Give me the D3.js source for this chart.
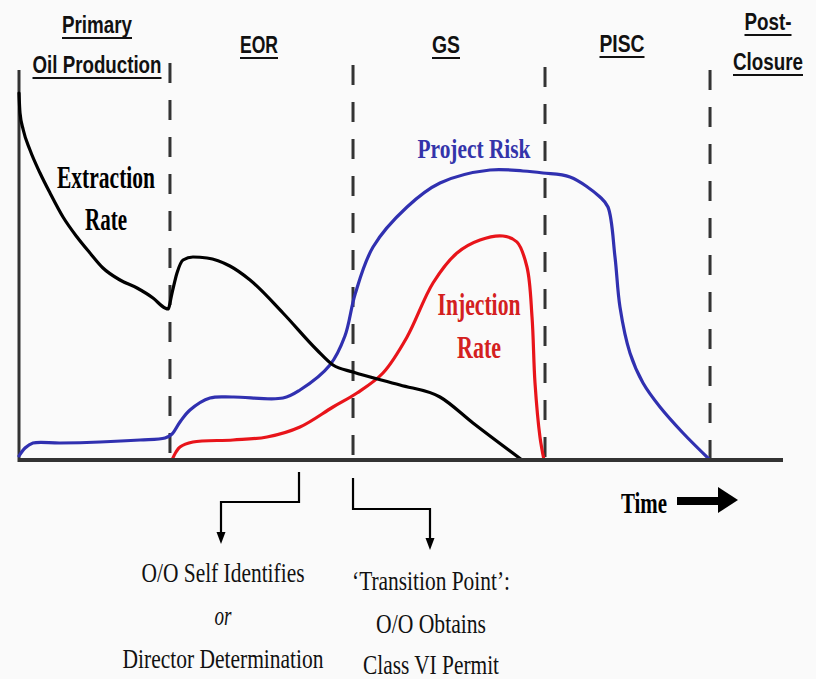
<!DOCTYPE html>
<html><head><meta charset="utf-8">
<script src="https://cdn.jsdelivr.net/npm/d3@7"></script>
<style>html,body{margin:0;padding:0;background:#fafafa;}svg{display:block;}</style>
</head><body>
<svg id="chart" width="816" height="679"></svg>
<script>
// ---- data (time units 0..100, level 0..100) ----
const phases = ["Primary|Oil Production", "EOR", "GS", "PISC", "Post-|Closure"];
const phaseBounds = [19.76, 43.72, 68.85, 90.45];

const extractionT = [0,0.13,0.56,1.44,2.75,4.06,5.76,7.59,9.29,10.99,13.22,15.45,17.54,19.11,19.5,20.03,20.68,21.47,22.77,24.61,27.6,30.24,34.55,39.0,41.1,43.72,49.87,55.1,59.42,65.84];
const extractionV = [91.75,86.75,82.5,77.5,71.75,66.75,60.75,55.75,51.75,48,45,43,40.5,38,37.75,41.75,46.75,50,50.75,50.5,48.5,45,36.75,27.5,23.75,22,18.75,15.75,9.25,0];

const riskT = [0,0.79,1.83,5.37,10.6,15.84,19.11,20.03,21.07,22.38,25,28.01,34.55,36.78,40.7,42.66,44.0,46.34,50.79,55.1,61.65,65.97,68.59,72.12,76.05,77.09,78.01,78.66,79.97,81.68,83.9,86.91,90.45];
const riskV = [1,3,4.25,4.25,4.5,5,5.5,6.5,9.5,12.5,15.5,15.75,15.5,17.5,23.75,31,41.5,53.25,63.25,69.25,72.5,72.25,71.75,70.75,65.75,63.25,50.75,38.25,26.75,19.25,13.25,6.75,0];

const injectionT = [20.03,20.55,21.07,22.77,28.01,32.46,36.78,41.1,44.24,47.64,50.79,54.19,57.33,60.34,63.35,65.18,66.49,67.15,67.54,68.19,68.72];
const injectionV = [0,2,3.25,4.5,5,5.75,8.25,13.25,16.75,21.75,30.75,44.25,51.75,55,56,54.5,48.25,35.75,19.25,5.75,0];

const curveLabels = [
  {lines:["Extraction","Rate"], widths:[98,42], color:"#000"},
  {lines:["Project Risk"], widths:[113], color:"#3434aa"},
  {lines:["Injection","Rate"], widths:[83,44], color:"#d42020"}
];
const leftNote = ["O/O Self Identifies","or","Director Determination"];
const rightNote = ["\u2018Transition Point\u2019:","O/O Obtains","Class VI Permit"];

// ---- drawing ----
const svg = d3.select("#chart");
svg.append("rect").attr("width",816).attr("height",679).attr("fill","#fafafa");

const x = d3.scaleLinear().domain([0,100]).range([19,783]);
const y = d3.scaleLinear().domain([0,100]).range([460,60]);

const axisColor = "#333";
const dashTops = [63,65,67,70];
phaseBounds.forEach((b,i)=>{
  svg.append("line").attr("x1",x(b)).attr("x2",x(b)).attr("y1",dashTops[i]).attr("y2",y(0))
    .attr("stroke",axisColor).attr("stroke-width",3).attr("stroke-dasharray","20,17");
});

svg.append("line").attr("x1",x(0)).attr("x2",x(0)).attr("y1",70).attr("y2",y(0)+2)
  .attr("stroke",axisColor).attr("stroke-width",3);

const smooth = d3.curveCatmullRom.alpha(0.5);
const series = [
  {t:riskT, v:riskV, color:"#3030b0", curve:smooth},
  {t:injectionT, v:injectionV, color:"#e8141a", curve:smooth},
  {t:extractionT, v:extractionV, color:"#000", curve:d3.curveMonotoneX}
];
series.forEach(s=>{
  const line = d3.line().x(d=>x(d[0])).y(d=>y(d[1])).curve(s.curve);
  svg.append("path").attr("d", line(s.t.map((t,i)=>[t,s.v[i]])))
    .attr("fill","none").attr("stroke",s.color).attr("stroke-width",3.2)
    .attr("stroke-linejoin","round").attr("stroke-linecap","round");
});

svg.append("line").attr("x1",x(0)-1).attr("x2",x(100)).attr("y1",y(0)).attr("y2",y(0))
  .attr("stroke",axisColor).attr("stroke-width",4);

// phase headers
const sans = "'Liberation Sans Narrow','Arial Narrow','Liberation Sans',Arial,sans-serif";
const headerSpec = [
  {cx:97, rows:[{b:33,w:70},{b:73,w:129}]},
  {cx:259, rows:[{b:53,w:38}]},
  {cx:446, rows:[{b:53,w:28}]},
  {cx:622, rows:[{b:52,w:45}]},
  {cx:768, rows:[{b:30,w:47},{b:70,w:70}]}
];
phases.forEach((p,i)=>{
  const parts = p.split("|");
  const spec = headerSpec[i];
  parts.forEach((txt,j)=>{
    const r = spec.rows[j];
    svg.append("text").attr("x",spec.cx).attr("y",r.b).attr("text-anchor","middle")
      .attr("font-family",sans).attr("font-weight","bold").attr("font-size",23)
      .attr("textLength",r.w).attr("lengthAdjust","spacingAndGlyphs")
      .attr("fill","#111").text(txt);
    svg.append("line").attr("x1",spec.cx-r.w/2).attr("x2",spec.cx+r.w/2)
      .attr("y1",r.b+5).attr("y2",r.b+5).attr("stroke","#111").attr("stroke-width",2);
  });
});

// curve labels
const serif = "'Liberation Serif','Times New Roman',Times,serif";
const labelPos = [
  {cx:106, ys:[188,230], fs:31},
  {cx:474, ys:[158], fs:28},
  {cx:479, ys:[315,358], fs:31}
];
curveLabels.forEach((l,i)=>{
  l.lines.forEach((txt,j)=>{
    svg.append("text").attr("x",labelPos[i].cx).attr("y",labelPos[i].ys[j])
      .attr("text-anchor","middle").attr("font-family",serif).attr("font-weight","bold")
      .attr("font-size",labelPos[i].fs).attr("textLength",l.widths[j]).attr("lengthAdjust","spacingAndGlyphs")
      .attr("fill",l.color).text(txt);
  });
});

// Time arrow
svg.append("text").attr("x",644).attr("y",513).attr("text-anchor","middle")
  .attr("font-family",serif).attr("font-weight","bold").attr("font-size",30)
  .attr("textLength",46).attr("lengthAdjust","spacingAndGlyphs").attr("fill","#000").text("Time");
svg.append("rect").attr("x",677).attr("y",497).attr("width",43).attr("height",8).attr("fill","#000");
svg.append("path").attr("d","M718,487 L738,500 L718,513 Z").attr("fill","#000");

// bracket arrows
function bracket(xTop, yTop, yMid, xEnd, yTip){
  svg.append("path").attr("d",`M${xTop},${yTop} V${yMid} H${xEnd} V${yTip-10}`)
    .attr("fill","none").attr("stroke","#000").attr("stroke-width",2.2);
  svg.append("path").attr("d",`M${xEnd-4.5},${yTip-12} L${xEnd+4.5},${yTip-12} L${xEnd},${yTip} Z`).attr("fill","#000");
}
bracket(x(36.65), 472, 502, 221, 544);
bracket(x(phaseBounds[1]), 478, 509, 430, 550);

// notes
const leftSpec = [{b:582,w:163,it:false},{b:625,w:17,it:true},{b:668,w:201,it:false}];
leftNote.forEach((t,i)=>{
  svg.append("text").attr("x",223).attr("y",leftSpec[i].b).attr("text-anchor","middle")
    .attr("font-family",serif).attr("font-size",28).attr("font-style",leftSpec[i].it?"italic":"normal")
    .attr("textLength",leftSpec[i].w).attr("lengthAdjust","spacingAndGlyphs").attr("fill","#111").text(t);
});
const rightSpec = [{b:590,w:158},{b:633,w:110},{b:674,w:136}];
rightNote.forEach((t,i)=>{
  svg.append("text").attr("x",431).attr("y",rightSpec[i].b).attr("text-anchor","middle")
    .attr("font-family",serif).attr("font-size",28)
    .attr("textLength",rightSpec[i].w).attr("lengthAdjust","spacingAndGlyphs").attr("fill","#111").text(t);
});
</script>
</body></html>
